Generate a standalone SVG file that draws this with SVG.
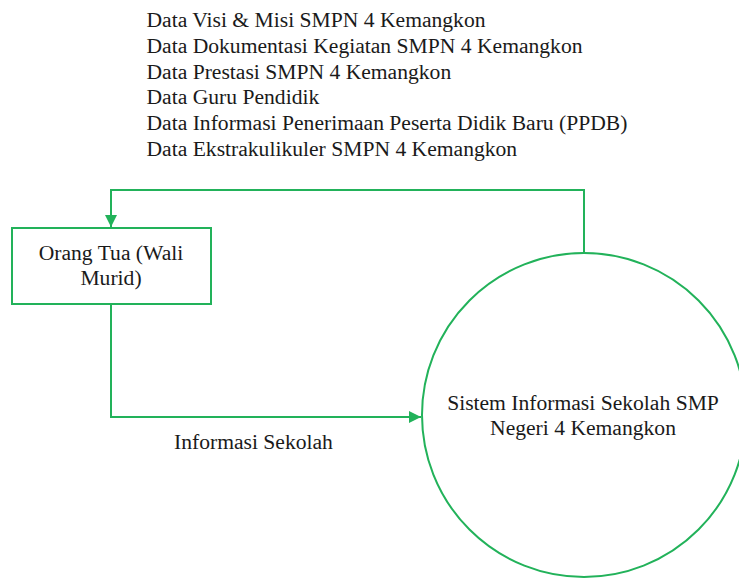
<svg xmlns="http://www.w3.org/2000/svg" width="739" height="579" viewBox="0 0 739 579" font-family="'Liberation Serif', 'Times New Roman', Times, serif">
  <style>
    text { font-family: 'Liberation Serif', 'Times New Roman', Times, serif; font-size: 21.6px; fill: #1a1a1a; }
    .shape { fill: #ffffff; stroke: #22B25A; stroke-width: 2; }
    .conn { fill: none; stroke: #22B25A; stroke-width: 2; }
    .mid { text-anchor: middle; }
  </style>
  <defs>
    <marker id="arrow" viewBox="0 0 12 12" refX="12" refY="6" markerWidth="12" markerHeight="12" markerUnits="userSpaceOnUse" orient="auto">
      <path d="M0,0 L12,6 L0,12 Z" fill="#22B25A"/>
    </marker>
  </defs>
  <rect width="739" height="579" fill="#ffffff"/>

  <g id="data-list">
    <text x="146.5" y="27">Data Visi &amp; Misi SMPN 4 Kemangkon</text>
    <text x="146.5" y="52.8">Data Dokumentasi Kegiatan SMPN 4 Kemangkon</text>
    <text x="146.5" y="78.6">Data Prestasi SMPN 4 Kemangkon</text>
    <text x="146.5" y="104.4">Data Guru Pendidik</text>
    <text x="146.5" y="130.2">Data Informasi Penerimaan Peserta Didik Baru (PPDB)</text>
    <text x="146.5" y="156">Data Ekstrakulikuler SMPN 4 Kemangkon</text>
  </g>

  <g id="connectors">
    <path class="conn" d="M584,253 L584,190 L111,190 L111,227" marker-end="url(#arrow)"/>
    <path class="conn" d="M111,304 L111,417 L421,417" marker-end="url(#arrow)"/>
    <text x="174" y="449">Informasi Sekolah</text>
  </g>

  <g id="orang-tua">
    <rect class="shape" x="12" y="228" width="199" height="76"/>
    <text class="mid" x="111" y="260">Orang Tua (Wali</text>
    <text class="mid" x="111" y="285">Murid)</text>
  </g>

  <g id="sistem">
    <circle class="shape" cx="584" cy="415" r="162"/>
    <text class="mid" x="583" y="410">Sistem Informasi Sekolah SMP</text>
    <text class="mid" x="583" y="435">Negeri 4 Kemangkon</text>
  </g>
</svg>
